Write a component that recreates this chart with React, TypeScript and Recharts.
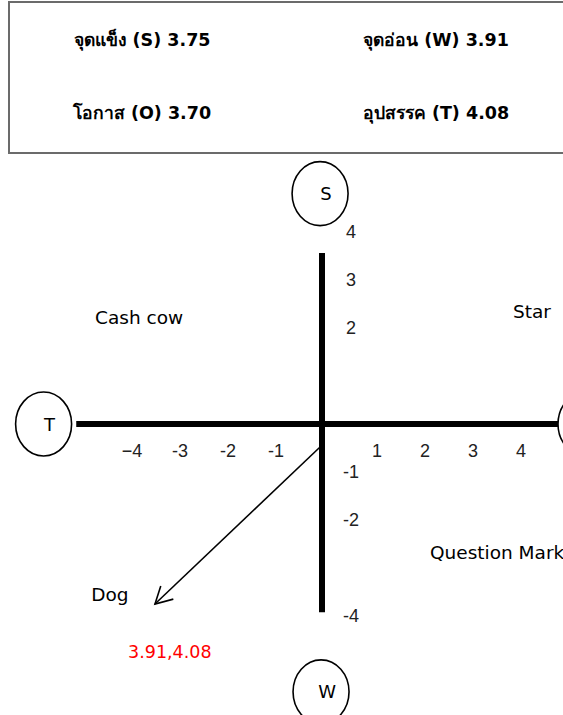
import { ReferenceLine, Scatter, ScatterChart, XAxis, YAxis } from "recharts";

// ค่าเฉลี่ย SWOT
const SWOT_NAMES = ["จุดแข็ง (S)", "จุดอ่อน (W)", "โอกาส (O)", "อุปสรรค (T)"];
const SWOT_SCORES = [3.75, 3.91, 3.7, 4.08];

const X_TICKS = [-4, -3, -2, -1, 1, 2, 3, 4];
const X_TICK_LABELS = ["−4", "-3", "-2", "-1", "1", "2", "3", "4"];
const Y_TICKS = [4, 3, 2, -1, -2, -4];
const Y_TICK_LABELS = ["4", "3", "2", "-1", "-2", "-4"];

const POLE_KEYS = ["S", "T", "W", "O"];
const QUADRANTS = ["Cash cow", "Star", "Question Mark", "Dog"];
const RESULT_TEXT = "3.91,4.08";

// placement in chart units (1 unit = 48px both ways)
const H_AXIS = [-5.12, 4.92];
const V_AXIS = [3.56, -3.92];
const POLE_AT = [
  [-0.04, 4.8],
  [-5.8, 0],
  [-0.02, -5.58],
  [5.5, 0],
];
const QUAD_AT = [
  [-3.81, 2.21],
  [4.375, 2.35],
  [2.25, -2.67],
  [-4.42, -3.56],
];
const RESULT_AT = [-3.17, -4.75];
const ARROW_FROM = [-0.04, -0.48];
const ARROW_TO = [-3.48, -3.75];

const FONT = "'DejaVu Sans', 'Noto Sans', sans-serif";
const TICK_FONT = "'Liberation Sans', sans-serif";

const poles = POLE_KEYS.map((k, i) => ({ k, x: POLE_AT[i][0], y: POLE_AT[i][1] }));
const quads = QUADRANTS.map((k, i) => ({ k, x: QUAD_AT[i][0], y: QUAD_AT[i][1], anchor: k === "Question Mark" ? "start" : "middle" }));
const xTicks = X_TICKS.map((v, i) => ({ k: X_TICK_LABELS[i], x: v, y: -0.5625, dx: v > 0 ? 7 : 2 }));
const yTicks = Y_TICKS.map((v, i) => ({ k: Y_TICK_LABELS[i], x: 0, y: v, dx: 29 }));
const result = [{ k: RESULT_TEXT, x: RESULT_AT[0], y: RESULT_AT[1] }];
const tip = [{ x: ARROW_TO[0], y: ARROW_TO[1] }];

function Pole(p: any) {
  return (
    <g>
      <ellipse cx={p.cx} cy={p.cy} rx={28} ry={32} fill="#fff" stroke="#000" strokeWidth={1.6} />
      <text x={p.cx + 6} y={p.cy} textAnchor="middle" dominantBaseline="central" fontSize={18} fontFamily={FONT} fill="#000">
        {p.payload.k}
      </text>
    </g>
  );
}

function Label(p: any) {
  const d = p.payload;
  return (
    <text
      x={p.cx + (d.dx || 0)}
      y={p.cy}
      textAnchor={d.anchor || "middle"}
      dominantBaseline="central"
      fontSize={18.5}
      fontFamily={FONT}
      fill="#000"
    >
      {d.k}
    </text>
  );
}

function TickText(p: any) {
  const d = p.payload;
  return (
    <text x={p.cx + d.dx} y={p.cy} textAnchor="middle" dominantBaseline="central" fontSize={18} fontFamily={TICK_FONT} fill="#222">
      {d.k}
    </text>
  );
}

function ResultText(p: any) {
  return (
    <text x={p.cx} y={p.cy} textAnchor="middle" dominantBaseline="central" fontSize={17.5} fontFamily={FONT} fill="#ff0000">
      {p.payload.k}
    </text>
  );
}

// same px per unit on both axes, so the data angle is the screen angle
function ArrowHead(p: any) {
  const back = Math.atan2(-(ARROW_FROM[1] - ARROW_TO[1]), ARROW_FROM[0] - ARROW_TO[0]);
  const len = 19;
  const a1 = back - 0.5;
  const a2 = back + 0.5;
  return (
    <path
      d={`M${p.cx + len * Math.cos(a1)},${p.cy + len * Math.sin(a1)} L${p.cx},${p.cy} L${p.cx + len * Math.cos(a2)},${p.cy + len * Math.sin(a2)}`}
      fill="none"
      stroke="#000"
      strokeWidth={1.6}
    />
  );
}

export default function App() {
  return (
    <div style={{ position: "absolute", left: 0, top: 0, width: 563, height: 715, overflow: "hidden", background: "#fff" }}>
      <ScatterChart width={610} height={720} margin={{ top: 184, right: 0, bottom: 8, left: 34 }}>
        <XAxis type="number" dataKey="x" domain={[-6, 6]} hide />
        <YAxis type="number" dataKey="y" domain={[-6, 5]} hide />
        <ReferenceLine segment={[{ x: H_AXIS[0], y: 0 }, { x: H_AXIS[1], y: 0 }]} stroke="#000" strokeWidth={6} ifOverflow="visible" />
        <ReferenceLine segment={[{ x: 0, y: V_AXIS[0] }, { x: 0, y: V_AXIS[1] }]} stroke="#000" strokeWidth={6} ifOverflow="visible" />
        <ReferenceLine
          segment={[{ x: ARROW_FROM[0], y: ARROW_FROM[1] }, { x: ARROW_TO[0], y: ARROW_TO[1] }]}
          stroke="#000"
          strokeWidth={1.6}
          ifOverflow="visible"
        />
        <Scatter data={tip} shape={ArrowHead} isAnimationActive={false} />
        <Scatter data={poles} shape={Pole} isAnimationActive={false} />
        <Scatter data={quads} shape={Label} isAnimationActive={false} />
        <Scatter data={xTicks} shape={TickText} isAnimationActive={false} />
        <Scatter data={yTicks} shape={TickText} isAnimationActive={false} />
        <Scatter data={result} shape={ResultText} isAnimationActive={false} />
      </ScatterChart>

      <div
        style={{
          position: "absolute",
          left: 8,
          top: 1,
          width: 580,
          height: 153,
          boxSizing: "border-box",
          border: "2px solid #6b6b6b",
          fontFamily: FONT,
          fontWeight: 700,
          fontSize: 17.5,
          color: "#000",
        }}
      >
        {SWOT_NAMES.map((n, i) => (
          <div
            key={n}
            style={{
              position: "absolute",
              left: i % 2 === 0 ? 132 : 426,
              top: i < 2 ? 37 : 110,
              transform: "translate(-50%, -50%)",
              whiteSpace: "nowrap",
            }}
          >
            {n} {SWOT_SCORES[i].toFixed(2)}
          </div>
        ))}
      </div>
    </div>
  );
}
